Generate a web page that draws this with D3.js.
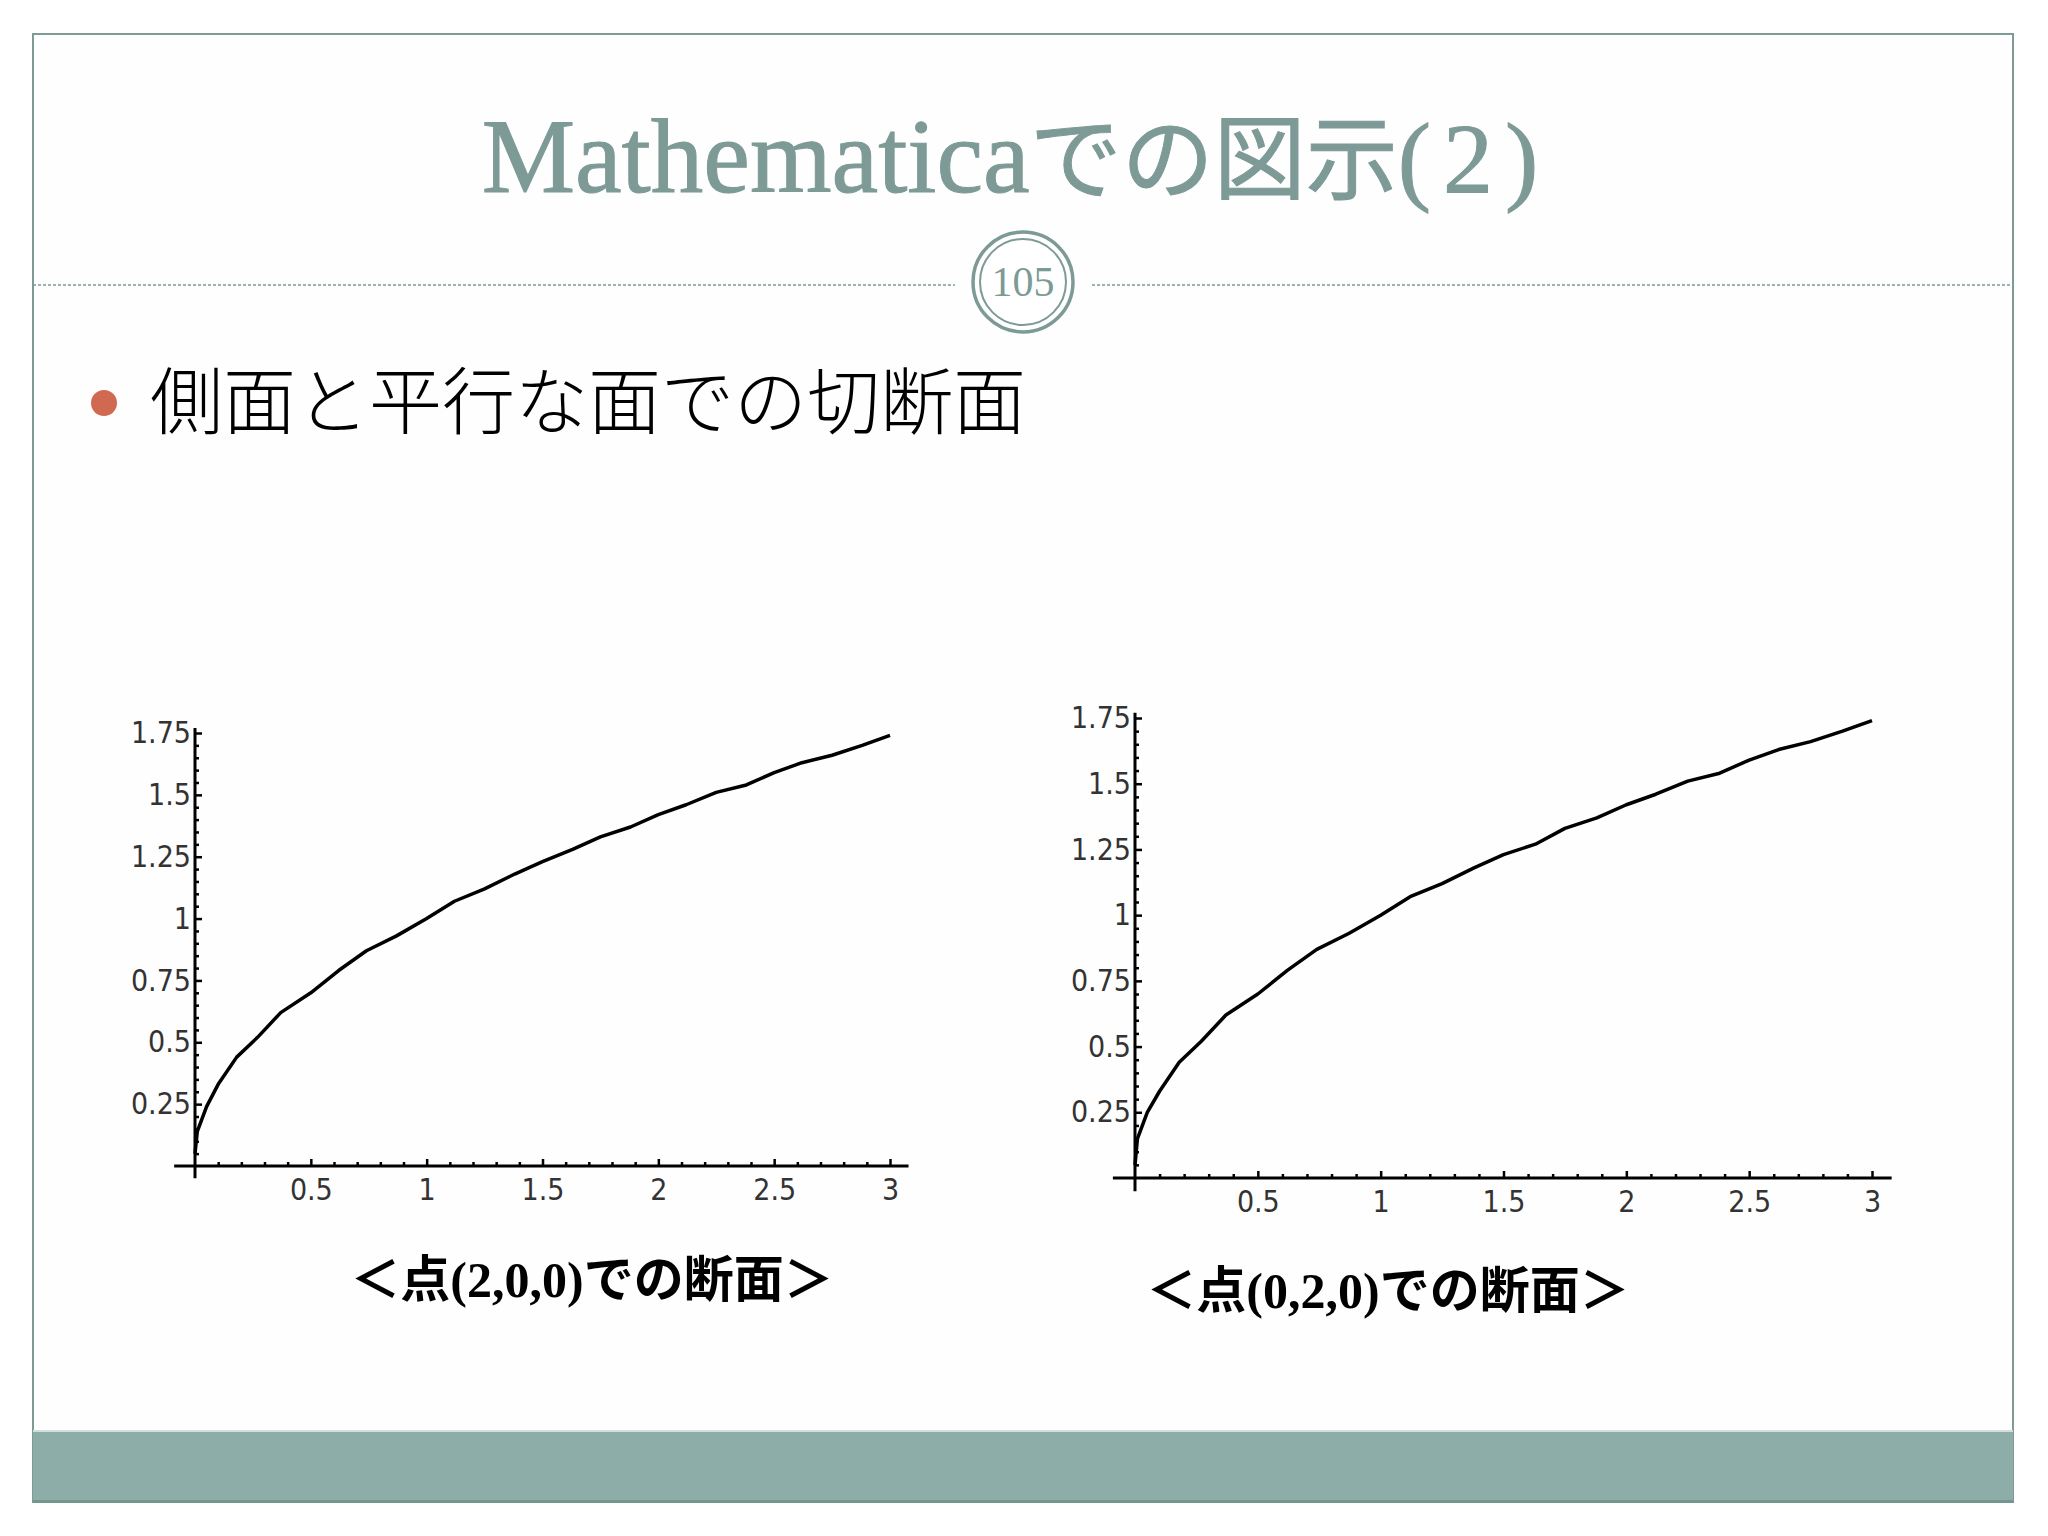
<!DOCTYPE html>
<html>
<head>
<meta charset="utf-8">
<script src="https://cdn.jsdelivr.net/npm/d3@7"></script>
<style>
  body { margin: 0; background: #fff; }
  .tick text { font-family: "Liberation Sans Narrow", "DejaVu Sans Condensed", sans-serif; fill: #333; }
</style>
</head>
<body>
<div id="slide"></div>
<script>
// values
var xValues = [0, 0.01, 0.05, 0.1, 0.18, 0.27, 0.37, 0.5, 0.62, 0.74, 0.87, 1.0, 1.12, 1.25, 1.38, 1.5, 1.63, 1.75, 1.88, 2.0, 2.12, 2.25, 2.38, 2.5, 2.62, 2.75, 2.88, 3.0];
var yLeft   = [0.05, 0.14, 0.24, 0.33, 0.44, 0.52, 0.62, 0.70, 0.79, 0.87, 0.93, 1.0, 1.07, 1.12, 1.18, 1.23, 1.28, 1.33, 1.37, 1.42, 1.46, 1.51, 1.54, 1.59, 1.63, 1.66, 1.70, 1.74];
var yRight  = [0.05, 0.15, 0.25, 0.33, 0.44, 0.52, 0.62, 0.70, 0.79, 0.87, 0.93, 1.0, 1.07, 1.12, 1.18, 1.23, 1.27, 1.33, 1.37, 1.42, 1.46, 1.51, 1.54, 1.59, 1.63, 1.66, 1.70, 1.74];

var xMajor = [0.5, 1, 1.5, 2, 2.5, 3];
var xMajorLabels = ["0.5", "1", "1.5", "2", "2.5", "3"];
var yMajor = [0.25, 0.5, 0.75, 1, 1.25, 1.5, 1.75];
var yMajorLabels = ["0.25", "0.5", "0.75", "1", "1.25", "1.5", "1.75"];

var titleText = "Mathematica";
var titleJa = "での図示";
var titleNum = "(2)";
var pageNumber = "105";
var bulletText = "側面と平行な面での切断面";
var captions = ["＜点(2,0,0)での断面＞", "＜点(0,2,0)での断面＞"];

var W = 2048, H = 1536;
var teal = "#7d9a96";

var svg = d3.select("#slide").append("svg")
    .attr("width", W)
    .attr("height", H);

svg.append("rect").attr("width", W).attr("height", H).attr("fill", "#fff");

// slide frame
svg.append("rect")
    .attr("x", 33).attr("y", 34)
    .attr("width", 1980).attr("height", 1468)
    .attr("fill", "#fefefe")
    .attr("stroke", teal)
    .attr("stroke-width", 2);

// footer band
svg.append("rect").attr("x", 33).attr("y", 1430).attr("width", 1980).attr("height", 2).attr("fill", "#d3dedc");
svg.append("rect").attr("x", 33).attr("y", 1432).attr("width", 1980).attr("height", 68).attr("fill", "#8dada9");
svg.append("rect").attr("x", 33).attr("y", 1500).attr("width", 1980).attr("height", 3).attr("fill", "#74968f");

// title
var title = svg.append("text")
    .attr("x", 1016).attr("y", 192)
    .attr("text-anchor", "middle")
    .attr("fill", teal)
    .attr("stroke", teal)
    .attr("stroke-width", 1);
title.append("tspan")
    .attr("font-family", "'Liberation Serif', serif")
    .attr("font-size", 105)
    .text(titleText);
title.append("tspan")
    .attr("font-family", "'Noto Sans CJK JP'")
    .attr("font-size", 92)
    .text(titleJa);
title.append("tspan")
    .attr("font-family", "'Liberation Serif', serif")
    .attr("font-size", 100)
    .attr("letter-spacing", 12)
    .text(titleNum);

// divider with page number badge
svg.append("line")
    .attr("x1", 33).attr("x2", 955).attr("y1", 285).attr("y2", 285)
    .attr("stroke", teal).attr("stroke-width", 1.5).attr("stroke-dasharray", "3,2");
svg.append("line")
    .attr("x1", 1092).attr("x2", 2013).attr("y1", 285).attr("y2", 285)
    .attr("stroke", teal).attr("stroke-width", 1.5).attr("stroke-dasharray", "3,2");

svg.append("circle").attr("cx", 1023).attr("cy", 282).attr("r", 50)
    .attr("fill", "#fff").attr("stroke", teal).attr("stroke-width", 3.5);
svg.append("circle").attr("cx", 1023).attr("cy", 282).attr("r", 43)
    .attr("fill", "none").attr("stroke", teal).attr("stroke-width", 2);
svg.append("text")
    .attr("x", 1023).attr("y", 296)
    .attr("text-anchor", "middle")
    .attr("font-family", "'Liberation Serif', serif")
    .attr("font-size", 42)
    .attr("fill", teal)
    .text(pageNumber);

// bullet
svg.append("circle").attr("cx", 104).attr("cy", 403).attr("r", 13).attr("fill", "#d0694f");
svg.append("text")
    .attr("x", 150).attr("y", 428)
    .attr("font-family", "'Noto Sans CJK JP'")
    .attr("font-weight", 300)
    .attr("font-size", 73)
    .attr("fill", "#000")
    .text(bulletText);

// the two plots
var plots = [
  {ys: yLeft,  x0: 195,  x1: 890,  y0: 1166, y1: 733, caption: captions[0], capX: 592,  capY: 1297},
  {ys: yRight, x0: 1135, x1: 1872, y0: 1178, y1: 718, caption: captions[1], capX: 1388, capY: 1308}
];

var xMinor = d3.range(1, 31).map(function(i) { return i / 10; }).filter(function(v) { return Math.round(v * 10) % 5 !== 0; });
var yMinor = d3.range(1, 36).map(function(i) { return i / 20; }).filter(function(v) { return Math.round(v * 20) % 5 !== 0; });

plots.forEach(function(p) {
  var xScale = d3.scaleLinear().domain([0, 3]).range([p.x0, p.x1]);
  var yScale = d3.scaleLinear().domain([0, 1.75]).range([p.y0, p.y1]);

  var g = svg.append("g");

  // minor ticks
  g.append("g")
    .attr("transform", "translate(0," + p.y0 + ")")
    .call(d3.axisBottom(xScale).tickValues(xMinor).tickSize(-4).tickFormat(""))
    .call(function(a) { a.select(".domain").remove(); a.selectAll("line").attr("stroke", "#000").attr("stroke-width", 2.5); });
  g.append("g")
    .attr("transform", "translate(" + p.x0 + ",0)")
    .call(d3.axisLeft(yScale).tickValues(yMinor).tickSize(-4).tickFormat(""))
    .call(function(a) { a.select(".domain").remove(); a.selectAll("line").attr("stroke", "#000").attr("stroke-width", 2.5); });

  // major ticks and labels
  g.append("g")
    .attr("transform", "translate(0," + p.y0 + ")")
    .call(d3.axisBottom(xScale).tickValues(xMajor).tickSize(-7).tickPadding(13)
      .tickFormat(function(d, i) { return xMajorLabels[i]; }))
    .call(function(a) {
      a.select(".domain").remove();
      a.selectAll("line").attr("stroke", "#000").attr("stroke-width", 2.5);
      a.selectAll("text").attr("font-size", 30);
    });
  g.append("g")
    .attr("transform", "translate(" + p.x0 + ",0)")
    .call(d3.axisLeft(yScale).tickValues(yMajor).tickSize(-7).tickPadding(4)
      .tickFormat(function(d, i) { return yMajorLabels[i]; }))
    .call(function(a) {
      a.select(".domain").remove();
      a.selectAll("line").attr("stroke", "#000").attr("stroke-width", 2.5);
      a.selectAll("text").attr("font-size", 30);
    });

  // axis lines, running a little past the plot range like Mathematica
  g.append("line")
    .attr("x1", xScale(-0.09)).attr("x2", xScale(3.08))
    .attr("y1", yScale(0)).attr("y2", yScale(0))
    .attr("stroke", "#000").attr("stroke-width", 3);
  g.append("line")
    .attr("x1", xScale(0)).attr("x2", xScale(0))
    .attr("y1", yScale(-0.05)).attr("y2", yScale(1.77))
    .attr("stroke", "#000").attr("stroke-width", 3);

  var line = d3.line()
    .x(function(d, i) { return xScale(xValues[i]); })
    .y(function(d) { return yScale(d); });

  g.append("path")
    .datum(p.ys)
    .attr("d", line)
    .attr("fill", "none")
    .attr("stroke", "#000")
    .attr("stroke-width", 3.5)
    .attr("stroke-linejoin", "round");

  svg.append("text")
    .attr("x", p.capX).attr("y", p.capY)
    .attr("text-anchor", "middle")
    .attr("font-family", "'Liberation Serif', 'Noto Sans CJK JP', serif")
    .attr("font-weight", "bold")
    .attr("font-size", 50)
    .attr("fill", "#000")
    .text(p.caption);
});
</script>
</body>
</html>
